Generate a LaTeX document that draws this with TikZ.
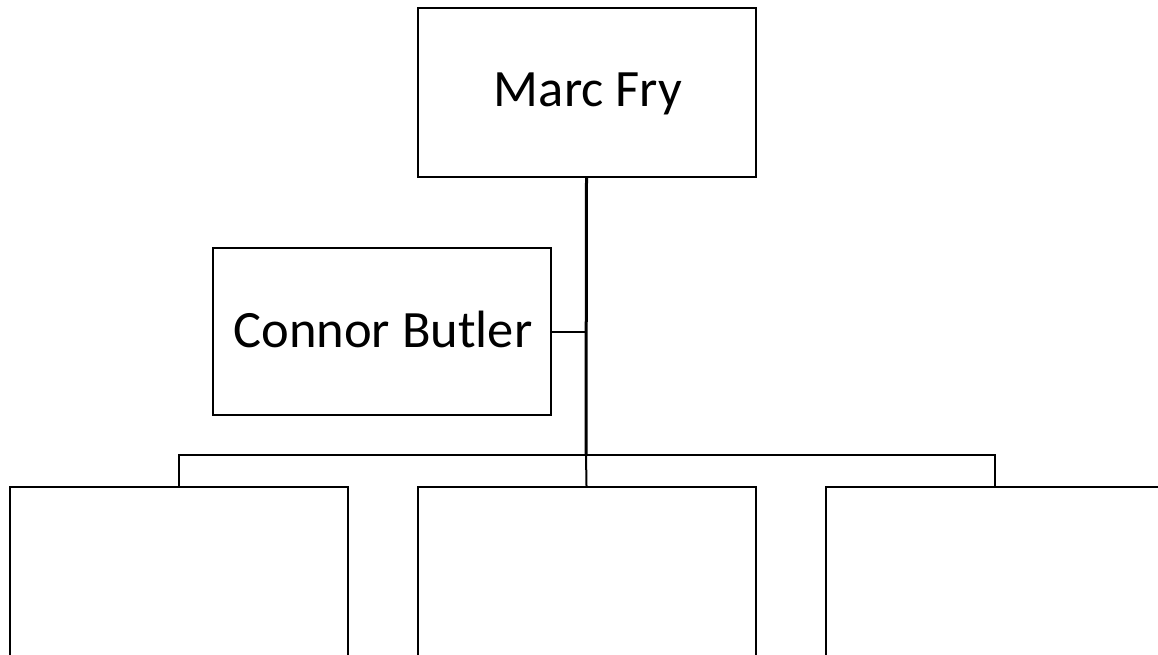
\documentclass[tikz,border=0pt]{standalone}
\usepackage{fontspec}
\setmainfont{Carlito}
\begin{document}
\begin{tikzpicture}[x=1pt,y=-1pt,
  box/.style={draw=black,line width=2pt,fill=white,inner sep=0pt,
    minimum width=338pt,minimum height=169pt},
  label/.style={anchor=base,inner sep=0pt,font=\fontsize{52.5}{60}\selectfont},
  trunk/.style={line width=3pt},
  branch/.style={line width=2pt}]
\useasboundingbox (0,0) rectangle (1158,655);
% Junction points of the connectors
\coordinate (bus) at (586,455);
\coordinate (side) at (586,332);
% Boxes
\node[box] (top) at (586.5,92.5) {};
\node[box,minimum height=167pt] (assist) at (382,331.5) {};
\node[box] (c1) at (179,571.5) {};
\node[box] (c2) at (586.5,571.5) {};
\node[box] (c3) at (995,571.5) {};
% Connectors
\draw[trunk] (top.south) -- (bus);
\draw[line width=1.5pt] (assist.east |- side) -- (side);
\draw[branch] (c1.north) -- (c1.north |- bus) -- (c3.north |- bus) -- (c3.north);
\draw[branch] (bus) -- (c2.north);
% Labels
\node[label] (topname) at (588,107) {Marc Fry};
\node[label] (assistname) at (383,347) {Connor Butler};
\end{tikzpicture}
\end{document}
